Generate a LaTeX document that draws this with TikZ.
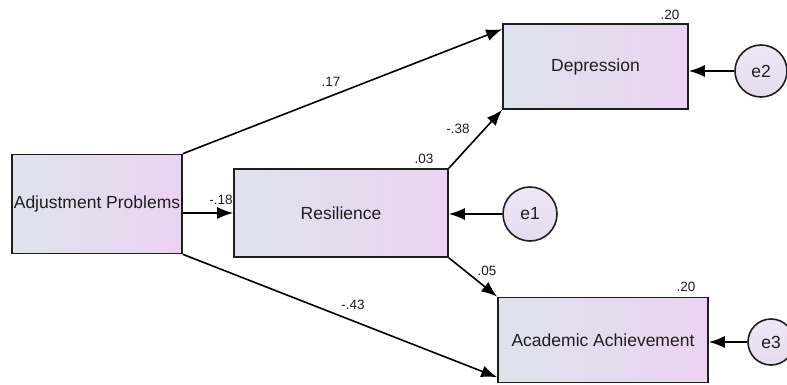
\documentclass[tikz,border=0pt]{standalone}
\usepackage{fontspec}
\setmainfont{Liberation Sans}
\usepackage{xcolor}
\usepackage{tikz}
\usetikzlibrary{arrows.meta,positioning}
\definecolor{boxleft}{HTML}{DEE3EC}
\definecolor{boxright}{HTML}{ECD3F1}
\definecolor{errfill}{HTML}{E6DCF0}
\definecolor{inkgray}{HTML}{1E1E1E}

\begin{document}
\begin{tikzpicture}[x=1pt, y=-1pt, >={Latex[length=16pt,width=12pt]},
  varbox/.style={draw=inkgray, line width=1.6pt, rectangle, inner sep=0pt,
    left color=boxleft, right color=boxright, text=inkgray,
    font=\fontsize{17.5}{20}\selectfont},
  errnode/.style={draw=inkgray, line width=1.6pt, circle, inner sep=0pt,
    top color=errfill!70!white, bottom color=errfill, text=inkgray,
    font=\fontsize{17.5}{20}\selectfont},
  patharrow/.style={->, line width=1.6pt, draw=black},
  coef/.style={text=inkgray, font=\fontsize{13.5}{15}\selectfont}]
\useasboundingbox (0,0) rectangle (787,385);

% --- Observed variables ---
\node[varbox, minimum width=170pt, minimum height=99pt] (adj) at (97,204)
  {Adjustment Problems};
\node[varbox, minimum width=214pt, minimum height=88pt] (res) at (341,213)
  {Resilience};
\node[varbox, minimum width=185pt, minimum height=85pt] (dep) at (595.5,66.5)
  {Depression};
\node[varbox, minimum width=210pt, minimum height=85pt] (aca) at (603,340)
  {Academic Achievement};

% --- Error terms ---
\node[errnode, minimum size=54pt] (e1) at (530,214) {e1};
\node[errnode, minimum size=52pt] (e2) at (761,71) {e2};
\node[errnode, minimum size=46pt] (e3) at (771,342) {e3};

% --- Paths ---
\draw[patharrow] (adj.north east) -- ([yshift=-6pt]dep.north west);
\draw[patharrow] (adj.east |- res.west) -- (res.west);
\draw[patharrow] (adj.south east) -- ([yshift=6pt]aca.south west);
\draw[patharrow] (res.north east) -- (dep.south west);
\draw[patharrow] (res.south east) -- (aca.north west);
\draw[patharrow] (e1.west) -- (res.east |- e1.west);
\draw[patharrow] (e2.west) -- (dep.east |- e2.west);
\draw[patharrow] (e3.west) -- (aca.east |- e3.west);

% --- Coefficients ---
\node[coef] (c17) at (331,82) {.17};
\node[coef] (c18) at (221,200) {-.18};
\node[coef] (c43) at (353,305) {-.43};
\node[coef] (c38) at (458,129) {-.38};
\node[coef] (c05) at (487,271) {.05};
\node[coef] (r03) at (424,159) {.03};
\node[coef] (r20d) at (670,15) {.20};
\node[coef] (r20a) at (686,287) {.20};
\end{tikzpicture}
\end{document}
